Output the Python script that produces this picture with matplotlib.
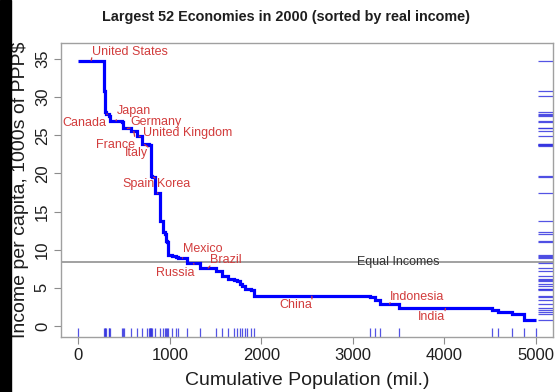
import numpy as np
import matplotlib.pyplot as plt
from matplotlib.patches import Rectangle

plt.rcParams['font.family'] = ['Liberation Sans', 'DejaVu Sans']

# 52 largest economies in 2000, ordered by real income per capita
countries = [
    'United States', 'Norway', 'Switzerland', 'Denmark', 'Canada', 'Ireland',
    'Netherlands', 'Japan', 'Austria', 'Belgium', 'Germany', 'France',
    'United Kingdom', 'Italy', 'Australia', 'Sweden', 'Hong Kong', 'Finland',
    'Singapore', 'Israel', 'Spain', 'Korea', 'Argentina', 'Saudi Arabia',
    'Czech Republic', 'Hungary', 'Chile', 'Poland', 'South Africa', 'Malaysia',
    'Mexico', 'Russia', 'Brazil', 'Turkey', 'Thailand', 'Iran', 'Colombia',
    'Venezuela', 'Romania', 'Algeria', 'Peru', 'Ukraine', 'Morocco', 'China',
    'Egypt', 'Philippines', 'Indonesia', 'India', 'Vietnam', 'Pakistan',
    'Bangladesh', 'Nigeria',
]
population = [  # millions
    282.2, 4.5, 7.2, 5.3, 30.8, 3.8,
    15.9, 126.9, 8.1, 10.2, 82.2, 59.0,
    58.9, 57.7, 19.2, 8.9, 6.7, 5.2,
    4.0, 6.3, 40.0, 47.0, 37.0, 20.7,
    10.3, 10.2, 15.2, 38.6, 44.0, 23.3,
    98.0, 146.0, 170.4, 67.4, 61.4, 64.0, 42.1,
    24.3, 22.4, 30.4, 25.9, 49.2, 28.7, 1262.6,
    64.0, 51.0, 206.0, 1015.0, 70.0, 146.0,
    138.0, 128.0,
]
income = [  # 1000s of PPP$ per capita
    34.8, 30.8, 30.2, 28.0, 27.8, 27.6,
    27.5, 26.9, 26.8, 26.0, 25.9, 25.5,
    24.9, 23.8, 23.8, 23.7, 23.7, 23.7,
    23.6, 19.7, 19.5, 17.4, 13.8, 12.3,
    12.1, 11.2, 11.0, 9.3, 9.2, 9.1,
    8.9, 8.2, 7.6, 7.2, 6.6, 6.1, 6.0,
    5.9, 5.5, 5.3, 4.9, 4.8, 4.7, 3.9,
    3.75, 3.4, 2.9, 2.3, 2.1, 1.9,
    1.6, 0.8,
]

# text offsets (points) of the country names from their step
label_offsets = {
    'United States': (0.4, 6.3), 'Canada': (-0.3, -6.8), 'Japan': (0.4, 7.1),
    'Germany': (1.9, 4.6), 'United Kingdom': (2.7, 2.5), 'France': (0.9, -9.8),
    'Italy': (2.4, -6.2), 'Spain': (1.0, -4.9), 'Korea': (-0.6, 6.6),
    'Mexico': (0.1, 6.6), 'Russia': (0.9, -6.9), 'Brazil': (1.3, 5.8),
    'China': (0.1, -6.3), 'Indonesia': (0.4, 5.2), 'India': (-0.3, -5.9),
}

pop = np.array(population)
inc = np.array(income)
edges = np.concatenate([[0], np.cumsum(pop)])
mids = edges[:-1] + pop / 2
equal = np.sum(pop * inc) / np.sum(pop)

red = '#d23c3c'
grey = '#8c8c8c'

fig = plt.figure(figsize=(5.59, 3.92), dpi=100)
fig.patches.append(Rectangle((0, 0), 11 / 559, 1, transform=fig.transFigure,
                             color='black', zorder=0))
ax = fig.add_axes([61 / 559, 1 - 337 / 392, 491.7 / 559, 294 / 392])

ax.axhline(equal, color='#9a9a9a', lw=1.3, zorder=1)
ax.text(3500, equal, 'Equal Incomes', ha='center', va='center',
        fontsize=9, color='#333333', zorder=2)

ax.stairs(inc, edges, baseline=None, color='#0000ff', lw=2.3, zorder=3)

# rugs: population breaks along the bottom, incomes along the right
ax.vlines(edges, 0, 0.03, transform=ax.get_xaxis_transform(),
          color='#3535e0', lw=0.9, alpha=0.85)
ax.hlines(inc, 0.97, 1, transform=ax.get_yaxis_transform(),
          color='#3535e0', lw=0.9, alpha=0.85)

for name, (dx, dy) in label_offsets.items():
    i = countries.index(name)
    left = dy > 0
    ax.annotate(name, (mids[i], inc[i]), xytext=(dx, dy),
                textcoords='offset points', ha='left' if left else 'right',
                va='center', fontsize=9, color=red, zorder=4,
                arrowprops=dict(arrowstyle='-', color=red, lw=0.9,
                                shrinkA=0, shrinkB=0,
                                relpos=(0, 0) if left else (1, 1)))

ax.set_xlim(-189, 5182)
ax.set_ylim(-1.44, 37.1)
ax.set_xticks(range(0, 5001, 1000))
ax.set_yticks(range(0, 36, 5))
ax.tick_params(axis='both', labelsize=12, length=5, color=grey,
               labelcolor='#1e1e1e', pad=3)
plt.setp(ax.get_yticklabels(), rotation=90, va='center')
for s in ax.spines.values():
    s.set_color('#a0a0a0')
    s.set_linewidth(1)

ax.set_xlabel('Cumulative Population (mil.)', fontsize=14, color='#1e1e1e',
              labelpad=6.5)
ax.set_ylabel('Income per capita, 1000s of PPP$', fontsize=14,
              color='#1e1e1e', labelpad=4)
fig.text(286 / 559, 1 - 17 / 392,
         'Largest 52 Economies in 2000 (sorted by real income)',
         ha='center', va='center', fontsize=10.4, fontweight='bold',
         color='#1e1e1e')

fig.savefig('out.png', dpi=100)
